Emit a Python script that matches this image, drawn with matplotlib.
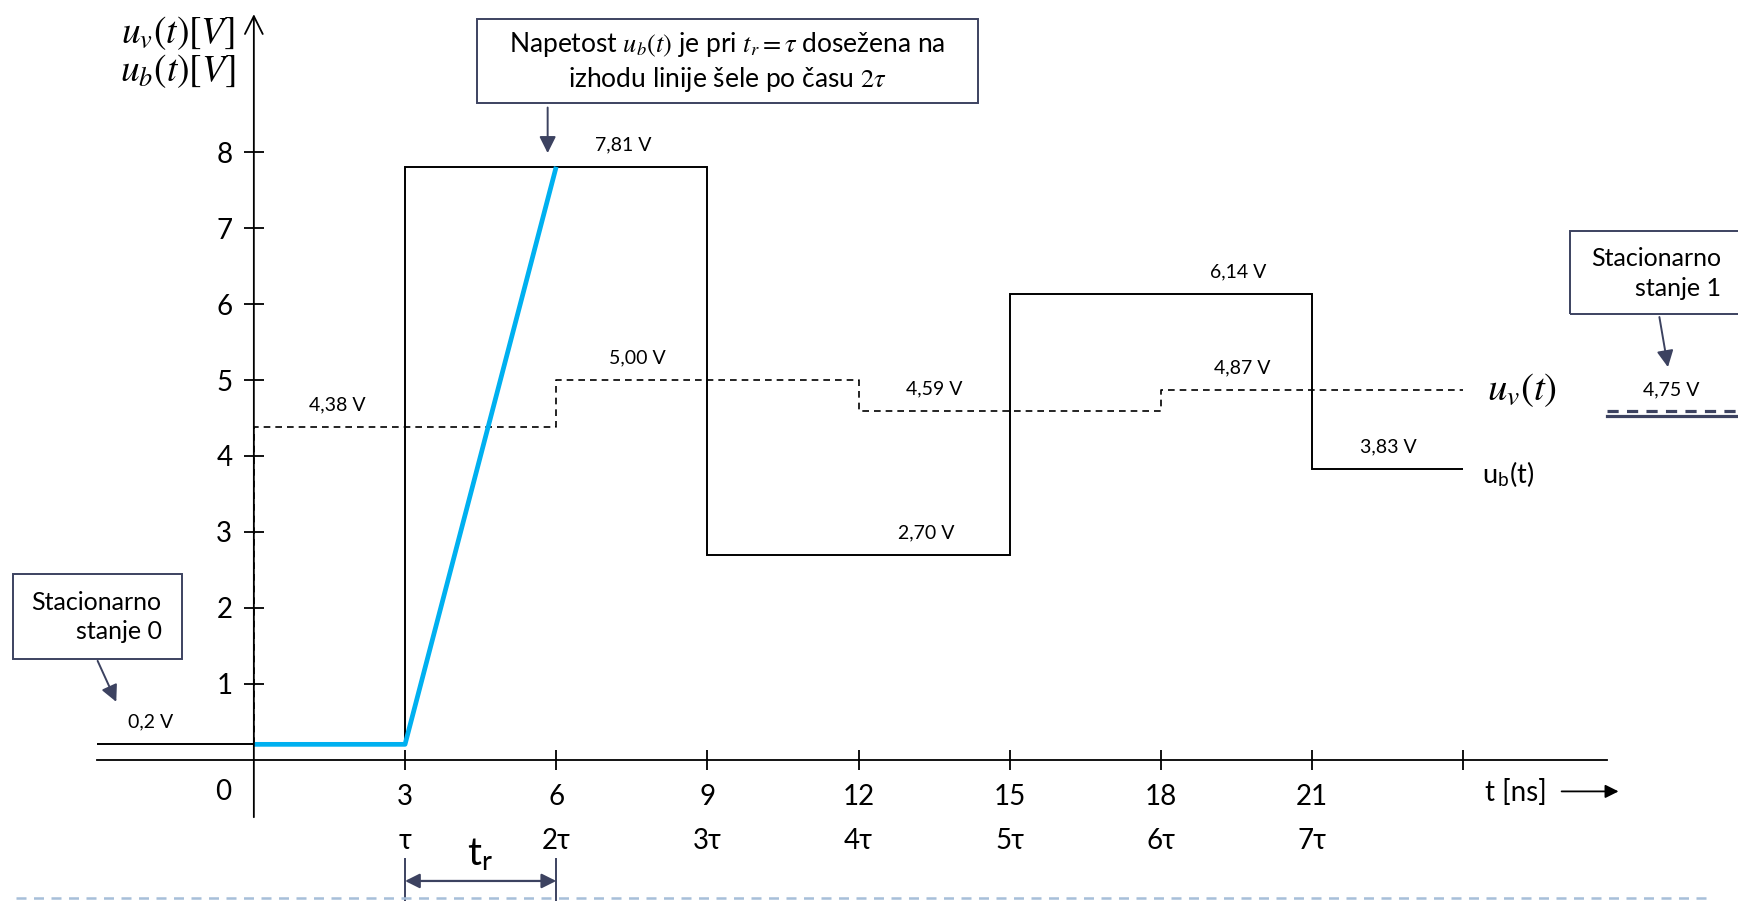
import numpy as np
import matplotlib.pyplot as plt
from matplotlib.patches import Rectangle

plt.rcParams['font.family'] = ['Lato', 'DejaVu Sans']
plt.rcParams['mathtext.fontset'] = 'stix'

# u_b(t) - output voltage (solid), step edges in ns and levels in V
ub_edges = [-3.12, 3, 9, 15, 21, 24]
ub_levels = [0.2, 7.81, 2.70, 6.14, 3.83]

# u_v(t) - (dashed)
uv_edges = [0, 6, 12, 18, 24]
uv_levels = [4.38, 5.00, 4.59, 4.87]
uv_start = 0.2

# input ramp (blue)
ramp_t = [0, 3, 6]
ramp_v = [0.2, 0.2, 7.81]

# steady state 1
steady_val = 4.75
steady_dash_y = 4.59
steady_solid_y = 4.52

x_ticks = [3, 6, 9, 12, 15, 18, 21, 24]
x_ticklabels = ['3', '6', '9', '12', '15', '18', '21', '']
tau_labels = ['τ', '2τ', '3τ', '4τ', '5τ', '6τ', '7τ']
y_ticks = [1, 2, 3, 4, 5, 6, 7, 8]

navy = '#3C4260'

fig = plt.figure(figsize=(17.38, 9.01), dpi=100)
ax = fig.add_axes([0, 0, 1, 1])
ax.set_xlim(-5.037, 29.45)
ax.set_ylim(-1.864, 10.007)

# axes
for s in ['top', 'right', 'left']:
    ax.spines[s].set_visible(False)
ax.spines['left'].set_position(('data', 0))
ax.spines['bottom'].set_position(('data', 0))
ax.spines['bottom'].set_bounds(-3.12, 26.86)
ax.spines['bottom'].set_linewidth(1.3)
ax.annotate('', xy=(0, 9.82), xytext=(0, -0.76),
            arrowprops=dict(arrowstyle='->', lw=1.3, color='black',
                            mutation_scale=32, shrinkA=0, shrinkB=0))
ax.set_xticks(x_ticks)
ax.set_xticklabels(x_ticklabels)
ax.set_yticks(y_ticks)
ax.set_yticklabels([str(v) for v in y_ticks])
ax.tick_params(direction='inout', length=15, width=1.3, labelsize=20, pad=8)
ax.tick_params(axis='x', pad=10)
ax.text(-0.6, -0.43, '0', fontsize=20, ha='center', va='center')
for xt, lab in zip(x_ticks, tau_labels):
    ax.text(xt, -1.07, lab, fontsize=20, ha='center', va='center')

# y label
ax.text(-0.37, 9.57, r'$u_v(t)[V]$', fontsize=27, ha='right', va='center')
ax.text(-0.37, 9.07, r'$u_b(t)[V]$', fontsize=27, ha='right', va='center')

# t [ns] label with arrow
ax.text(25.05, -0.43, 't [ns]', fontsize=20, ha='center', va='center')
ax.annotate('', xy=(27.08, -0.42), xytext=(25.95, -0.42),
            arrowprops=dict(arrowstyle='-|>', lw=1.3, color='black',
                            mutation_scale=20, shrinkA=0, shrinkB=0))

# curves
ax.stairs(ub_levels, ub_edges, baseline=None, color='black', lw=1.4)
uv_x = np.repeat(uv_edges, 2)[1:-1]
uv_y = np.repeat(uv_levels, 2)
ax.plot(np.r_[uv_edges[0], uv_x], np.r_[uv_start, uv_y], color='black',
        lw=1.2, dashes=(4, 3))
ax.plot(ramp_t, ramp_v, color='#00B0F0', lw=3.4, solid_capstyle='butt')

# value labels
ub_label_x = [-2.05, 7.33, 13.35, 19.53, 22.52]
uv_label_x = [1.65, 7.61, 13.51, 19.62]
for xl, v in zip(ub_label_x, ub_levels):
    ax.text(xl, v + 0.29, f'{v:.2f}'.replace('.', ',').replace(',20', ',2') + ' V',
            fontsize=14, ha='center', va='center')
for xl, v in zip(uv_label_x, uv_levels):
    ax.text(xl, v + 0.29, f'{v:.2f}'.replace('.', ',') + ' V',
            fontsize=14, ha='center', va='center')

# series names
ax.text(24.46, 4.87, r'$u_v(t)$', fontsize=28, ha='left', va='center')
ax.text(24.37, 3.76, r'u$_\mathregular{b}$(t)', fontsize=19.5, ha='left', va='center')

# steady state 1 marker
ax.plot([26.86, 29.45], [steady_dash_y] * 2, color=navy, lw=2.3, dashes=(3.5, 2.6))
ax.plot([26.86, 29.45], [steady_solid_y] * 2, color=navy, lw=2.3)
ax.text(28.13, 4.87, f'{steady_val:.2f}'.replace('.', ',') + ' V', fontsize=14,
        ha='center', va='center')

# boxes
ax.add_patch(Rectangle((4.42, 8.65), 9.94, 1.11, fill=False, ec=navy, lw=1.4))
ax.text(9.40, 9.19, 'Napetost $u_b(t)$ je pri $t_r = \\tau$ dosežena na\n'
        'izhodu linije šele po času $2\\tau$', fontsize=19, ha='center',
        va='center', linespacing=1.3)
ax.annotate('', xy=(5.83, 7.99), xytext=(5.83, 8.59),
            arrowprops=dict(arrowstyle='-|>', lw=1.4, color=navy,
                            mutation_scale=25, shrinkA=0, shrinkB=0))

ax.add_patch(Rectangle((-4.77, 1.33), 3.34, 1.11, fill=False, ec=navy, lw=1.4))
ax.text(-1.83, 1.88, 'Stacionarno\nstanje 0', fontsize=18, ha='right',
        va='center', multialignment='right', linespacing=1.35)
ax.annotate('', xy=(-2.73, 0.76), xytext=(-3.10, 1.30),
            arrowprops=dict(arrowstyle='-|>', lw=1.4, color=navy,
                            mutation_scale=25, shrinkA=0, shrinkB=0))

ax.add_patch(Rectangle((26.11, 5.87), 3.6, 1.10, fill=False, ec=navy, lw=1.4,
                       clip_on=True))
ax.text(29.12, 6.40, 'Stacionarno\nstanje 1', fontsize=18, ha='right',
        va='center', multialignment='right', linespacing=1.35)
ax.annotate('', xy=(28.06, 5.17), xytext=(27.89, 5.83),
            arrowprops=dict(arrowstyle='-|>', lw=1.4, color=navy,
                            mutation_scale=25, shrinkA=0, shrinkB=0))

# rise time t_r
ax.text(4.49, -1.26, r't$_\mathregular{r}$', fontsize=28, ha='center', va='center')
for xv in [3, 6]:
    ax.plot([xv, xv], [-1.31, -1.864], color=navy, lw=1.4)
ax.annotate('', xy=(3, -1.60), xytext=(6, -1.60),
            arrowprops=dict(arrowstyle='<|-|>', lw=1.6, color=navy,
                            mutation_scale=22, shrinkA=0, shrinkB=0))

# bottom dashed separator
ax.plot([-4.71, 28.84], [-1.83, -1.83], color='#A7BFD9', lw=1.8, dashes=(4, 3))

fig.savefig('out.png', dpi=100)
